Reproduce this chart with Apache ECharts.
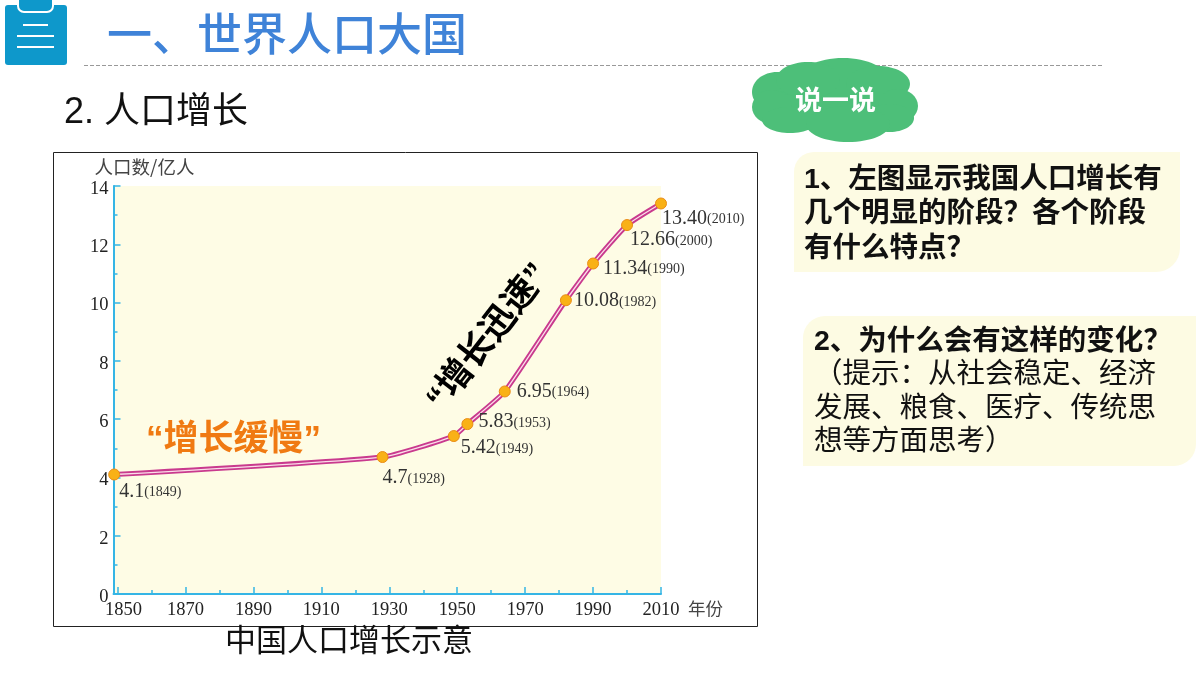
<!DOCTYPE html>
<html>
<head>
<meta charset="utf-8">
<style>html,body{margin:0;padding:0;background:#fff}#c{width:1200px;height:675px}</style>
<script src="https://cdn.jsdelivr.net/npm/echarts@6/dist/echarts.min.js"></script>
</head>
<body>
<div id="c"></div>
<script>
var years = [1849, 1928, 1949, 1953, 1964, 1982, 1990, 2000, 2010];
var population = [4.1, 4.7, 5.42, 5.83, 6.95, 10.08, 11.34, 12.66, 13.40];
var populationLabels = ['4.1', '4.7', '5.42', '5.83', '6.95', '10.08', '11.34', '12.66', '13.40'];
var xMajorTicks = [1850, 1870, 1890, 1910, 1930, 1950, 1970, 1990, 2010];
var xMinorTicks = [1860, 1880, 1900, 1920, 1940, 1960, 1980, 2000];
var labelOffsets = [[-1, 17], [-6, 21], [1, 12], [5, -2], [6, 0], [2, 1], [4, 5], [-3, 15], [-5, 15]];

var titleText = '一、世界人口大国';
var subTitle = '2. 人口增长';
var caption = '中国人口增长示意';
var cloudText = '说一说';
var slowText = '“增长缓慢”';
var fastText = '“增长迅速”';
var q1Lines = ['1、左图显示我国人口增长有', '几个明显的阶段？各个阶段', '有什么特点？'];
var q2Lines = ['2、为什么会有这样的变化？', '（提示：从社会稳定、经济', '发展、粮食、医疗、传统思', '想等方面思考）'];

var CJK = '"Liberation Sans","Noto Sans CJK SC",sans-serif';
var SERIF = '"Liberation Serif",serif';
var CJK_ONLY = '"Noto Sans CJK SC",sans-serif';

function txt(s, x, y, size, color, weight, extra) {
  var o = {
    type: 'text', x: x, y: y + size * 0.1, z: 20,
    style: { text: s, fontFamily: CJK, fontSize: size, fill: color, fontWeight: weight || 'normal', align: 'left', verticalAlign: 'middle' }
  };
  if (extra) { for (var k in extra) o[k] = extra[k]; }
  return o;
}
function cloudPart(cx, cy, rx, ry) {
  return { type: 'ellipse', z: 15, shape: { cx: cx, cy: cy, rx: rx, ry: ry }, style: { fill: '#4DBF79' } };
}

var graphics = [
  { type: 'rect', z: -1, silent: true, shape: { x: 53.5, y: 152.5, width: 704, height: 474 }, style: { fill: '#fff', stroke: '#222', lineWidth: 1 } },
  { type: 'rect', z: 10, shape: { x: 5, y: 5, width: 62, height: 60, r: 3 }, style: { fill: '#0E98CB' } },
  { type: 'rect', z: 11, shape: { x: 18, y: -6, width: 35, height: 18, r: 6 }, style: { fill: '#0E98CB', stroke: '#fff', lineWidth: 2 } },
  { type: 'rect', z: 11, shape: { x: 23, y: 24, width: 25, height: 2 }, style: { fill: '#fff' } },
  { type: 'rect', z: 11, shape: { x: 17, y: 35, width: 37, height: 2 }, style: { fill: '#fff' } },
  { type: 'rect', z: 11, shape: { x: 17, y: 46, width: 37, height: 2 }, style: { fill: '#fff' } },
  { type: 'line', z: 5, shape: { x1: 84, y1: 65.5, x2: 1102, y2: 65.5 }, style: { stroke: '#999', lineWidth: 1, lineDash: [4, 2] } },
  txt(titleText, 107, 34, 45, '#3F83D8', 500),
  txt(subTitle, 64, 109, 36, '#111'),
  txt(caption, 225, 639, 31, '#111'),
  cloudPart(835, 100, 72, 32), cloudPart(777, 92, 25, 20), cloudPart(772, 107, 20, 17),
  cloudPart(790, 120, 28, 13), cloudPart(843, 80, 45, 22), cloudPart(808, 80, 32, 18), cloudPart(878, 84, 32, 18),
  cloudPart(898, 106, 20, 17), cloudPart(890, 118, 24, 14), cloudPart(848, 124, 42, 18),
  txt(cloudText, 795, 100, 27, '#fff', 'bold'),
  { type: 'rect', z: 4, shape: { x: 794, y: 152, width: 386, height: 120, r: [20, 0, 24, 0] }, style: { fill: '#FDFBE3' } },
  { type: 'rect', z: 4, shape: { x: 803, y: 316, width: 393, height: 150, r: [22, 0, 22, 0] }, style: { fill: '#FDFBE3' } },
  txt(slowText, 146, 437, 35, '#F07A12', 'bold'),
  txt(fastText, 489, 334, 35, '#000', 'bold', { rotation: 52 * Math.PI / 180 })
];
graphics[graphics.length - 1].style.align = 'center';
q1Lines.forEach(function (s, i) { graphics.push(txt(s, 804, 177 + i * 34.5, 28.5, '#111', 'bold')); });
q2Lines.forEach(function (s, i) { graphics.push(txt(s, 814, 339 + i * 33.5, 28.5, '#111', i === 0 ? 'bold' : 'normal')); });

var axisBlue = '#35B5E5';
var lineData = years.map(function (y, i) { return [y, population[i]]; });

var option = {
  animation: false,
  backgroundColor: '#fff',
  grid: { left: 113.5, top: 186, right: 539, bottom: 81, show: true, backgroundColor: '#FEFCE5', borderWidth: 0 },
  xAxis: [{
    type: 'value', min: 1848.8, max: 2010, position: 'bottom',
    name: '年份', nameLocation: 'end', nameGap: 27,
    nameTextStyle: { fontFamily: CJK_ONLY, fontSize: 17.5, color: '#444', verticalAlign: 'top', padding: [6, 0, 0, 0] },
    axisLine: { show: true, lineStyle: { color: axisBlue, width: 2 } },
    axisTick: { show: true, inside: true, length: 7, customValues: xMajorTicks, lineStyle: { color: axisBlue, width: 1.5 } },
    axisLabel: {
      customValues: xMajorTicks, fontFamily: SERIF, fontSize: 18.5, color: '#222', margin: 7,
      formatter: function (v) { return v === 1850 ? '{first|' + v + '}' : String(v); },
      rich: { first: { fontFamily: SERIF, fontSize: 18.5, color: '#222', padding: [0, 0, 0, 12] } }
    },
    splitLine: { show: false }
  }, {
    type: 'value', min: 1848.8, max: 2010, position: 'bottom',
    axisLine: { show: false },
    axisTick: { show: true, inside: true, length: 4, customValues: xMinorTicks, lineStyle: { color: axisBlue, width: 1.5 } },
    axisLabel: { show: false },
    splitLine: { show: false }
  }],
  yAxis: {
    type: 'value', min: 0, max: 14, interval: 2,
    name: '人口数/亿人', nameLocation: 'end', nameGap: 10,
    nameTextStyle: { fontFamily: CJK_ONLY, fontSize: 18.5, color: '#444', align: 'center', padding: [0, 0, 0, 62] },
    axisLine: { show: true, lineStyle: { color: axisBlue, width: 2 } },
    axisTick: { show: true, inside: true, length: 7, lineStyle: { color: axisBlue, width: 1.5 } },
    minorTick: { show: true, splitNumber: 2, length: 4, lineStyle: { color: axisBlue, width: 1.5 } },
    axisLabel: {
      fontFamily: SERIF, fontSize: 18.5, color: '#222', margin: 5,
      formatter: '{n|{value}}',
      rich: { n: { fontFamily: SERIF, fontSize: 18.5, color: '#222', padding: [6, 0, 0, 0] } }
    },
    splitLine: { show: false }, minorSplitLine: { show: false }
  },
  series: [{
    type: 'line', data: lineData, xAxisIndex: 0, smooth: 0.15, symbol: 'none', z: 3, silent: true,
    lineStyle: { color: '#C93A8E', width: 5 }
  }, {
    type: 'line', data: lineData, xAxisIndex: 0, smooth: 0.15, symbol: 'circle', symbolSize: 11, z: 4,
    lineStyle: { color: '#FBDDE8', width: 1.3 },
    itemStyle: { color: '#F9B116', borderColor: '#EA8C15', borderWidth: 1, opacity: 1 },
    label: {
      show: true, position: 'right', distance: 0,
      formatter: function (p) {
        return '{v|' + populationLabels[p.dataIndex] + '}{y|(' + years[p.dataIndex] + ')}';
      },
      rich: {
        v: { fontFamily: SERIF, fontSize: 20, color: '#333' },
        y: { fontFamily: SERIF, fontSize: 14, color: '#333', padding: [2, 0, 0, 0] }
      }
    },
    labelLayout: function (p) { return { dx: labelOffsets[p.dataIndex][0], dy: labelOffsets[p.dataIndex][1] }; }
  }],
  graphic: graphics
};
var chart = echarts.init(document.getElementById('c'), null, { renderer: 'canvas' });
chart.setOption(option);
</script>
</body>
</html>
